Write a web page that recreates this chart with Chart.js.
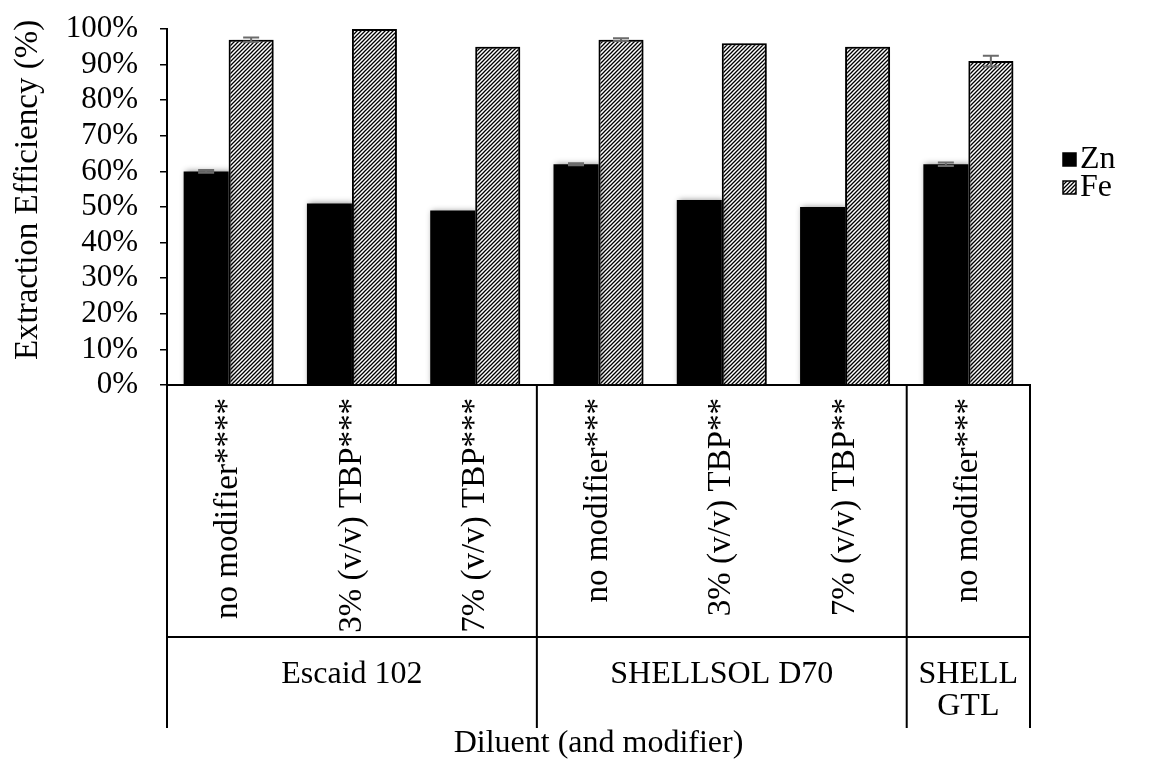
<!DOCTYPE html>
<html>
<head>
<meta charset="utf-8">
<script src="https://cdn.jsdelivr.net/npm/chart.js@4.4.1/dist/chart.umd.min.js"></script>
<style>
  html, body { margin: 0; padding: 0; background: #fff; }
  #wrap { width: 1152px; height: 760px; }
</style>
</head>
<body>
<div id="wrap"><canvas id="c" width="1152" height="760"></canvas></div>
<script>
// Modifier labels (one per bar pair) and the diluent they belong to
const categories = [
  'no modifier****', '3% (v/v) TBP***', '7% (v/v) TBP***',
  'no modifier***', '3% (v/v) TBP**', '7% (v/v) TBP**',
  'no modifier***'
];
const diluents = ['Escaid 102', 'SHELLSOL D70', ['SHELL', 'GTL']];
const diluentSizes = [3, 3, 1];

// Extraction efficiency (%) and standard deviations
const znValues = [60, 51, 49, 62, 52, 50, 62];
const feValues = [97, 100, 95, 97, 96, 95, 91];
const znErrors = [0.4, 0, 0, 0.3, 0, 0, 0.5];
const feErrors = [0.6, 0, 0, 0.4, 0, 0, 1.5];

const yTickValues = [0, 10, 20, 30, 40, 50, 60, 70, 80, 90, 100];
const yTitle = 'Extraction Efficiency (%)';

const FONT = "'Liberation Serif', 'Times New Roman', serif";

function makeHatch() {
  const s = 4;
  const c = document.createElement('canvas');
  c.width = s; c.height = s;
  const g = c.getContext('2d');
  g.fillStyle = '#fff';
  g.fillRect(0, 0, s, s);
  g.strokeStyle = '#000';
  g.lineWidth = 1.3;
  g.beginPath();
  g.moveTo(-1, s + 1); g.lineTo(s + 1, -1);
  g.moveTo(-1, 1); g.lineTo(1, -1);
  g.moveTo(s - 1, s + 1); g.lineTo(s + 1, s - 1);
  g.stroke();
  return g.createPattern(c, 'repeat');
}
const hatch = makeHatch();

const errorBars = {
  id: 'errorBars',
  beforeDatasetsDraw(chart) {
    const ctx = chart.ctx;
    ctx.save();
    ctx.shadowColor = 'rgba(0,0,0,0.45)';
    ctx.shadowBlur = 6;
    ctx.shadowOffsetX = 2;
    ctx.shadowOffsetY = 0;
  },
  afterDatasetsDraw(chart) {
    const ctx = chart.ctx;
    ctx.restore();
    const ys = chart.scales.y;
    const errs = [znErrors, feErrors];
    ctx.save();
    ctx.strokeStyle = '#6b6b6b';
    ctx.lineWidth = 2;
    chart.data.datasets.forEach((ds, di) => {
      const meta = chart.getDatasetMeta(di);
      meta.data.forEach((bar, i) => {
        const e = errs[di][i];
        if (!e) return;
        const v = ds.data[i];
        const yt = ys.getPixelForValue(v + e);
        const yb = ys.getPixelForValue(v - e);
        const half = 8;
        ctx.beginPath();
        ctx.moveTo(bar.x, yt); ctx.lineTo(bar.x, yb);
        ctx.moveTo(bar.x - half, yt); ctx.lineTo(bar.x + half, yt);
        ctx.moveTo(bar.x - half, yb); ctx.lineTo(bar.x + half, yb);
        ctx.stroke();
      });
    });
    ctx.restore();
  }
};

const groupAxis = {
  id: 'groupAxis',
  afterDraw(chart) {
    const ctx = chart.ctx;
    const xs = chart.scales.x;
    const area = chart.chartArea;
    const step = xs.getPixelForValue(1) - xs.getPixelForValue(0);
    const rowY = 637, endY = 728;
    ctx.save();
    ctx.strokeStyle = '#000';
    ctx.lineWidth = 2;
    ctx.beginPath();
    ctx.moveTo(area.left, rowY); ctx.lineTo(area.right, rowY);
    let idx = 0;
    const bounds = [xs.getPixelForValue(0) - step / 2];
    diluentSizes.forEach(n => { idx += n; bounds.push(xs.getPixelForValue(idx - 1) + step / 2); });
    bounds.forEach(b => { ctx.moveTo(b, area.bottom); ctx.lineTo(b, endY); });
    ctx.stroke();

    ctx.fillStyle = '#000';
    ctx.font = '32px ' + FONT;
    ctx.textAlign = 'center';
    ctx.textBaseline = 'top';
    diluents.forEach((lab, g) => {
      const cx = (bounds[g] + bounds[g + 1]) / 2;
      const lines = Array.isArray(lab) ? lab : [lab];
      lines.forEach((t, k) => ctx.fillText(t, cx, 659 + k * 32));
    });

    // y-axis title
    ctx.save();
    ctx.font = '33px ' + FONT;
    ctx.textBaseline = 'middle';
    ctx.translate(28, 190);
    ctx.rotate(-Math.PI / 2);
    ctx.fillText(yTitle, 0, 0);
    ctx.restore();

    // legend
    const items = [
      { label: chart.data.datasets[0].label, fill: '#000' },
      { label: chart.data.datasets[1].label, fill: hatch }
    ];
    ctx.font = '32px ' + FONT;
    ctx.textAlign = 'left';
    ctx.textBaseline = 'middle';
    items.forEach((it, k) => {
      const cy = 159 + k * 28;
      ctx.fillStyle = it.fill;
      ctx.fillRect(1063, cy - 6, 13, 13);
      ctx.strokeStyle = '#000';
      ctx.lineWidth = 1.5;
      ctx.strokeRect(1063, cy - 6, 13, 13);
      ctx.fillStyle = '#000';
      ctx.fillText(it.label, 1080, cy + 1);
    });
    ctx.restore();
  }
};

new Chart(document.getElementById('c'), {
  type: 'bar',
  data: {
    labels: categories,
    datasets: [
      {
        label: 'Zn',
        data: znValues,
        backgroundColor: '#000',
        borderColor: '#000',
        borderWidth: 0,
        categoryPercentage: 0.73,
        barPercentage: 1.0
      },
      {
        label: 'Fe',
        data: feValues,
        backgroundColor: hatch,
        borderColor: '#000',
        borderWidth: 2,
        categoryPercentage: 0.73,
        barPercentage: 1.0
      }
    ]
  },
  options: {
    responsive: false,
    animation: false,
    devicePixelRatio: 1,
    layout: { padding: { top: 29, right: 122, bottom: 0, left: 0 } },
    plugins: {
      legend: { display: false },
      tooltip: { enabled: false }
    },
    scales: {
      x: {
        grid: { display: false, drawTicks: false },
        border: { display: true, color: '#000', width: 2 },
        ticks: {
          color: '#000',
          font: { family: FONT, size: 33 },
          minRotation: 90,
          maxRotation: 90,
          autoSkip: false,
          padding: 13
        },
        title: {
          display: true,
          text: 'Diluent (and modifier)',
          color: '#000',
          font: { family: FONT, size: 32, lineHeight: 1 },
          padding: { top: 0, bottom: 0 }
        },
        afterFit(s) { s.height = 375; }
      },
      y: {
        min: 0,
        max: 100,
        afterBuildTicks(s) { s.ticks = yTickValues.map(v => ({ value: v })); },
        grid: { drawOnChartArea: false, drawTicks: true, tickLength: 7, color: '#000', lineWidth: 1.5 },
        border: { display: true, color: '#000', width: 2 },
        ticks: {
          color: '#000',
          font: { family: FONT, size: 31 },
          padding: 22,
          autoSkip: false,
          callback: v => v + '%'
        },
        title: { display: false },
        afterFit(s) {
          s.width = 167;
          s.paddingTop = 10;
          s.paddingBottom = 10;
        }
      }
    }
  },
  plugins: [errorBars, groupAxis]
});
</script>
</body>
</html>
